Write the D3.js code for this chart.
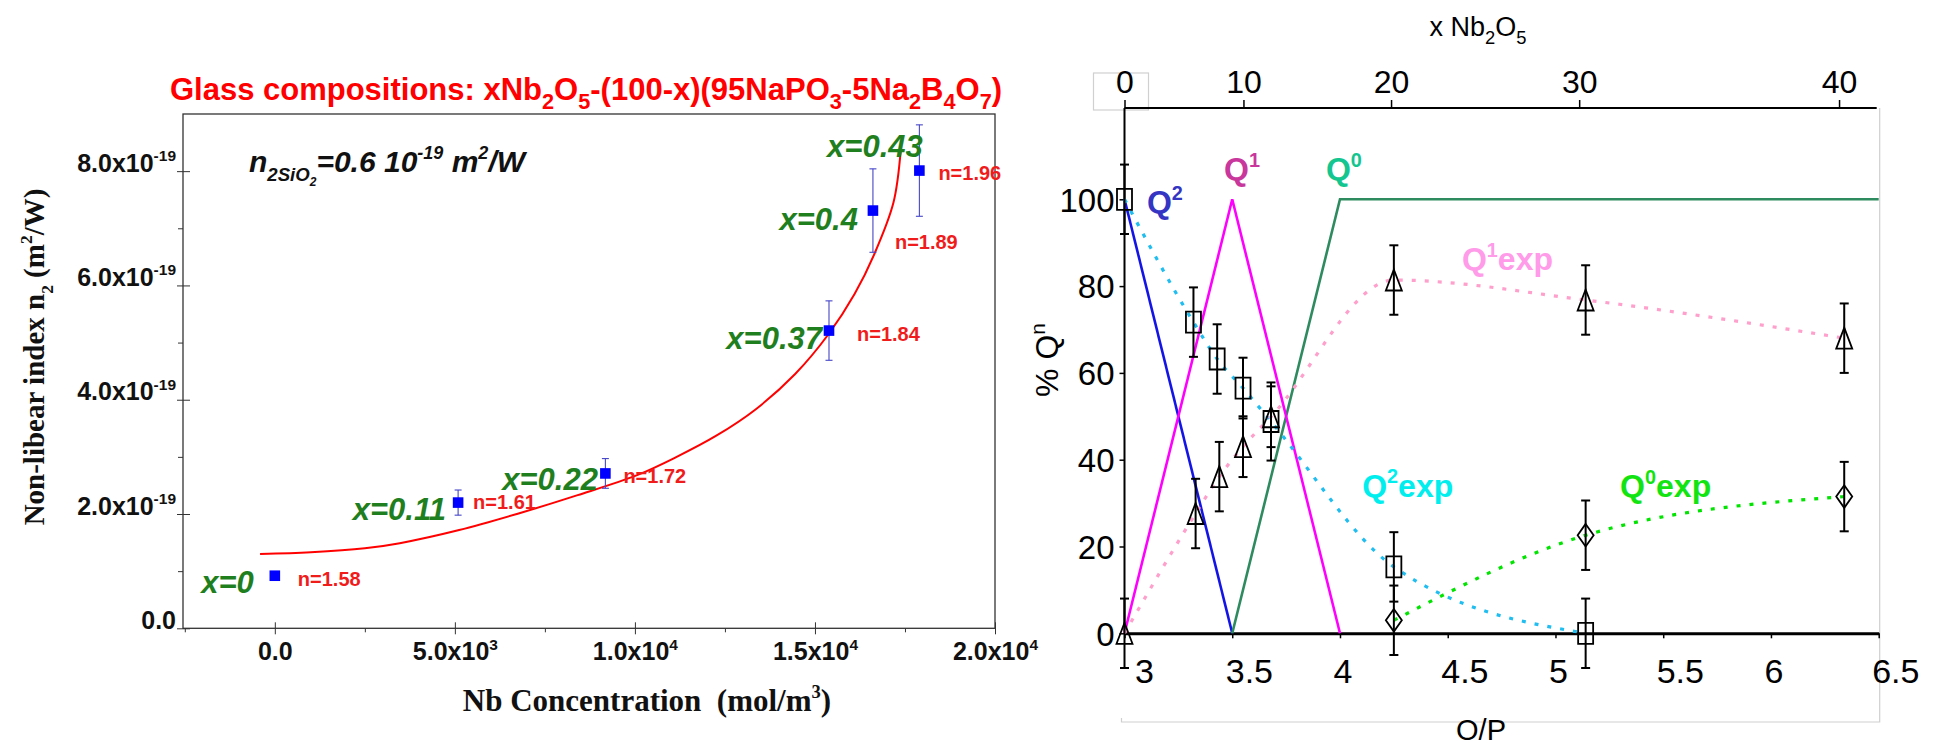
<!DOCTYPE html>
<html>
<head>
<meta charset="utf-8">
<script src="https://cdn.jsdelivr.net/npm/d3@7"></script>
<style>
  body { margin: 0; background: #fff; }
  svg { display: block; }
  text { white-space: pre; }
</style>
</head>
<body>
<svg id="fig" width="1937" height="746"></svg>
<script>
// ---- left panel: n2 vs Nb concentration (x in 1e3 mol/m3, y in 1e-19 m2/W)
const nbConc = [0, 5.09, 9.18, 15.39, 16.61, 17.9];
const n2Vals = [0.92, 2.2, 2.71, 5.21, 7.31, 8.01];
const n2Err = [0, 0.22, 0.26, 0.52, 0.73, 0.8];
const compLabels = ['x=0', 'x=0.11', 'x=0.22', 'x=0.37', 'x=0.4', 'x=0.43'];
const indexLabels = ['n=1.58', 'n=1.61', 'n=1.72', 'n=1.84', 'n=1.89', 'n=1.96'];

// red fit curve
const fitX = [-0.41, 1.0, 2.5, 3.47, 5.12, 6.77, 8.41, 10.06, 11.16, 12.26, 13.35, 14.45, 15.38, 16.1, 16.65, 17.18, 17.38];
const fitY = [1.30, 1.33, 1.40, 1.49, 1.72, 2.01, 2.33, 2.68, 3.0, 3.37, 3.83, 4.45, 5.15, 5.85, 6.55, 7.45, 8.35];

const concTicks = [0, 5, 10, 15, 20];
const concTickText = [['0.0', ''], ['5.0x10', '3'], ['1.0x10', '4'], ['1.5x10', '4'], ['2.0x10', '4']];
const concMinor = [-2.5, 2.5, 7.5, 12.5, 17.5];
const n2Ticks = [0, 2, 4, 6, 8];
const n2TickText = [['0.0', ''], ['2.0x10', '-19'], ['4.0x10', '-19'], ['6.0x10', '-19'], ['8.0x10', '-19']];
const n2Minor = [1, 3, 5, 7];

// ---- right panel: %Qn vs O/P
const q2ModelX = [3, 3.5];
const q2ModelY = [100, 0];
const q1ModelX = [3, 3.5, 4];
const q1ModelY = [0, 100, 0];
const q0ModelX = [3.5, 4, 6.5];
const q0ModelY = [0, 100, 100];

const q2ExpX = [3, 3.32, 3.43, 3.55, 3.68, 4.25, 5.14];
const q2ExpY = [100, 71.7, 63.2, 56.5, 48.8, 15.3, 0];
const q2ExpErr = [8, 8, 8, 7, 9, 8, 8];
const q1ExpX = [3, 3.33, 3.44, 3.55, 3.68, 4.25, 5.14, 6.34];
const q1ExpY = [0, 27.6, 36.1, 43, 49.9, 81.4, 76.8, 68];
const q1ExpErr = [8, 8, 8, 7, 7, 8, 8, 8];
const q0ExpX = [4.25, 5.14, 6.34];
const q0ExpY = [3, 22.6, 31.5];
const q0ExpErr = [8, 8, 8];

const opTicks = [3, 3.5, 4, 4.5, 5, 5.5, 6, 6.5];
const qTicks = [0, 20, 40, 60, 80, 100];
const compTicks = [0, 10, 20, 30, 40];        // x Nb2O5
const compTickOP = [3, 3.552, 4.237, 5.11, 6.316]; // where they sit on O/P

const SANS = 'Liberation Sans, Arial, sans-serif';
const SERIF = 'Liberation Serif, Times New Roman, serif';

const svg = d3.select('#fig');

// text with sub/sup parts: [[str, 'sub'|'sup'|'subsub'|null, scale]]
const rich = (sel, parts, size) => {
  let cur = 0;
  parts.forEach(([s, kind, sc]) => {
    const fs = sc ? size * sc : size;
    let shift = 0;
    if (kind === 'sub') shift = size * 0.3;
    if (kind === 'subsub') shift = size * 0.45;
    if (kind === 'sup') shift = -size * 0.42;
    sel.append('tspan').attr('dy', shift - cur).attr('font-size', fs).text(s);
    cur = shift;
  });
};

// =================== left panel ===================
const xL = d3.scaleLinear().domain([-2.55, 20]).range([183, 995]);
const yL = d3.scaleLinear().domain([0, 9]).range([628.3, 114]);
const gL = svg.append('g');

gL.append('rect')
  .attr('x', xL.range()[0]).attr('y', yL.range()[1])
  .attr('width', xL.range()[1] - xL.range()[0])
  .attr('height', yL.range()[0] - yL.range()[1])
  .attr('fill', 'none').attr('stroke', '#333').attr('stroke-width', 1.3);

// x axis
const xAxL = gL.append('g').attr('transform', `translate(0,${yL(0)})`)
  .call(d3.axisBottom(xL).tickValues(concTicks).tickSize(6).tickSizeOuter(0).tickFormat(''));
xAxL.select('.domain').remove();
xAxL.selectAll('.tick line').attr('y1', -6).attr('stroke', '#333');
xAxL.selectAll('.tick text').each(function (d, i) {
  const t = d3.select(this).attr('y', 32).attr('dy', 0)
    .attr('font-family', SANS).attr('font-weight', 'bold').attr('font-size', 25).attr('fill', '#111')
    .attr('text-anchor', 'middle');
  rich(t, [[concTickText[i][0]], [concTickText[i][1], 'sup', 0.62]], 25);
});
gL.append('g').attr('transform', `translate(0,${yL(0)})`)
  .call(d3.axisBottom(xL).tickValues(concMinor).tickSize(4).tickSizeOuter(0).tickFormat(''))
  .call(g => g.select('.domain').remove())
  .selectAll('.tick line').attr('stroke', '#333');

// y axis
const yAxL = gL.append('g').attr('transform', `translate(${xL.range()[0]},0)`)
  .call(d3.axisLeft(yL).tickValues(n2Ticks).tickSize(6).tickSizeOuter(0).tickFormat(''));
yAxL.select('.domain').remove();
yAxL.selectAll('.tick line').attr('x1', 7).attr('stroke', '#333');
yAxL.selectAll('.tick text').each(function (d, i) {
  const t = d3.select(this).attr('x', -7).attr('dy', '0.45em')
    .attr('font-family', SANS).attr('font-weight', 'bold').attr('font-size', 25).attr('fill', '#111')
    .attr('text-anchor', 'end');
  rich(t, [[n2TickText[i][0]], [n2TickText[i][1], 'sup', 0.62]], 25);
});
gL.append('g').attr('transform', `translate(${xL.range()[0]},0)`)
  .call(d3.axisLeft(yL).tickValues(n2Minor).tickSize(5).tickSizeOuter(0).tickFormat(''))
  .call(g => g.select('.domain').remove())
  .selectAll('.tick line').attr('stroke', '#333');

// fit curve
gL.append('path')
  .datum(d3.zip(fitX, fitY))
  .attr('d', d3.line().x(d => xL(d[0])).y(d => yL(d[1])).curve(d3.curveCatmullRom.alpha(0.5)))
  .attr('fill', 'none').attr('stroke', '#ff0000').attr('stroke-width', 2);

// error bars
const ptsL = nbConc.map((x, i) => ({ x, y: n2Vals[i], e: n2Err[i], i }));
const errL = gL.selectAll('.errL').data(ptsL.filter(p => p.e > 0)).join('g')
  .attr('stroke', '#4646c8').attr('stroke-width', 1.1);
errL.append('line')
  .attr('x1', d => xL(d.x)).attr('x2', d => xL(d.x))
  .attr('y1', d => yL(d.y - d.e)).attr('y2', d => yL(d.y + d.e));
[-1, 1].forEach(s => {
  errL.append('line')
    .attr('x1', d => xL(d.x) - 3.5).attr('x2', d => xL(d.x) + 3.5)
    .attr('y1', d => yL(d.y + s * d.e)).attr('y2', d => yL(d.y + s * d.e));
});

// squares
gL.selectAll('.sq').data(ptsL).join('rect')
  .attr('x', d => xL(d.x) - 5.3).attr('y', d => yL(d.y) - 5.3)
  .attr('width', 10.6).attr('height', 10.6).attr('fill', '#0000ff');

// annotations next to points
const compOffsets = [[-21, 17], [-12, 17], [-7.5, 16.5], [-7, 18], [-15, 19.7], [3.4, -13.7]];
const indexOffsets = [[23, 10.7], [15, 6.5], [18, 9.4], [28, 10.7], [22, 38], [19, 9.3]];
gL.selectAll('.comp').data(ptsL).join('text')
  .attr('x', d => xL(d.x) + compOffsets[d.i][0]).attr('y', d => yL(d.y) + compOffsets[d.i][1])
  .attr('text-anchor', 'end')
  .attr('font-family', SANS).attr('font-size', 31).attr('font-weight', 'bold').attr('font-style', 'italic')
  .attr('fill', '#1f7f1f')
  .text(d => compLabels[d.i]);
gL.selectAll('.nidx').data(ptsL).join('text')
  .attr('x', d => xL(d.x) + indexOffsets[d.i][0]).attr('y', d => yL(d.y) + indexOffsets[d.i][1])
  .attr('font-family', SANS).attr('font-size', 20).attr('font-weight', 'bold')
  .attr('fill', '#f01c1c')
  .text(d => indexLabels[d.i]);

// title
const title = gL.append('text').attr('x', 586).attr('y', 100).attr('text-anchor', 'middle')
  .attr('font-family', SANS).attr('font-weight', 'bold').attr('fill', '#ff0000');
rich(title, [
  ['Glass compositions: xNb'], ['2', 'sub', 0.7], ['O'], ['5', 'sub', 0.7],
  ['-(100-x)(95NaPO'], ['3', 'sub', 0.7], ['-5Na'], ['2', 'sub', 0.7],
  ['B'], ['4', 'sub', 0.7], ['O'], ['7', 'sub', 0.7], [')']
], 31);

// n2 of silica
const silica = gL.append('text').attr('x', 249).attr('y', 172)
  .attr('font-family', SANS).attr('font-weight', 'bold').attr('font-style', 'italic').attr('fill', '#111');
rich(silica, [
  ['n'], ['2SiO', 'sub', 0.62], ['2', 'subsub', 0.4], ['=0.6 10'], ['-19', 'sup', 0.6],
  [' m'], ['2', 'sup', 0.6], ['/W']
], 30);

// axis titles
const yTitleL = gL.append('text').attr('transform', 'translate(44,357) rotate(-90)')
  .attr('text-anchor', 'middle').attr('font-family', SERIF).attr('font-weight', 'bold').attr('fill', '#111');
rich(yTitleL, [['Non-libear index n'], ['2', 'sub', 0.6], [' (m'], ['2', 'sup', 0.6], ['/W)']], 29);

const xTitleL = gL.append('text').attr('x', 647).attr('y', 711)
  .attr('text-anchor', 'middle').attr('font-family', SERIF).attr('font-weight', 'bold').attr('fill', '#111');
rich(xTitleL, [['Nb Concentration  (mol/m'], ['3', 'sup', 0.6], [')']], 31);

// =================== right panel ===================
const xR = d3.scaleLinear().domain([3, 6.5]).range([1124.5, 1878.7]);
const yR = d3.scaleLinear().domain([0, 100]).range([633.3, 199.3]);
const topY = 108;
const xTop = d3.scaleLinear().domain(compTicks).range(compTickOP.map(xR));
const gR = svg.append('g');

// faint frame left over in the picture
gR.append('path')
  .attr('d', `M${xR(3) - 3},${718}V${722}H${xR(6.5) + 1}V${topY}`)
  .attr('fill', 'none').attr('stroke', '#cfcfcf').attr('stroke-width', 1.2);
gR.append('rect')
  .attr('x', xTop(0) - 31).attr('y', 73).attr('width', 55).attr('height', 37)
  .attr('fill', 'none').attr('stroke', '#d0d0d0').attr('stroke-width', 1.2);

// top axis (composition)
const topAx = gR.append('g').attr('transform', `translate(0,${topY})`)
  .call(d3.axisTop(xTop).tickValues(compTicks).tickSize(8).tickSizeOuter(0));
topAx.select('.domain').remove();
topAx.selectAll('.tick line').attr('stroke-width', 1.5);
topAx.selectAll('.tick text').attr('y', -15).attr('dy', 0)
  .attr('font-family', SANS).attr('font-size', 32).attr('fill', '#000');
gR.append('line')
  .attr('x1', xR(3)).attr('x2', xR(6.5) - 2).attr('y1', topY).attr('y2', topY)
  .attr('stroke', '#000').attr('stroke-width', 2);

const topTitle = gR.append('text').attr('x', 1478).attr('y', 36).attr('text-anchor', 'middle')
  .attr('font-family', SANS).attr('fill', '#000');
rich(topTitle, [['x Nb'], ['2', 'sub', 0.68], ['O'], ['5', 'sub', 0.68]], 27);

// left axis
const yAxR = gR.append('g').attr('transform', `translate(${xR(3)},0)`)
  .call(d3.axisLeft(yR).tickValues(qTicks).tickSize(5).tickSizeOuter(0));
yAxR.select('.domain').remove();
yAxR.selectAll('.tick line').attr('stroke-width', 1.5);
yAxR.selectAll('.tick text').attr('x', -10).attr('dy', '0.36em')
  .attr('font-family', SANS).attr('font-size', 33).attr('fill', '#000');
gR.append('line')
  .attr('x1', xR(3)).attr('x2', xR(3)).attr('y1', yR(0)).attr('y2', topY)
  .attr('stroke', '#000').attr('stroke-width', 2);

// bottom axis at 0 %
const xAxR = gR.append('g').attr('transform', `translate(0,${yR(0)})`)
  .call(d3.axisBottom(xR).tickValues(opTicks).tickSize(5).tickSizeOuter(0).tickFormat(d3.format('~g')));
xAxR.select('.domain').attr('stroke-width', 3);
xAxR.selectAll('.tick line').attr('stroke-width', 1.5);
xAxR.selectAll('.tick text').attr('y', 50).attr('dy', 0)
  .attr('x', d => d === opTicks[0] ? 10 : -7).attr('text-anchor', 'start')
  .attr('font-family', SANS).attr('font-size', 34).attr('fill', '#000');

gR.append('text').attr('x', 1481).attr('y', 740).attr('text-anchor', 'middle')
  .attr('font-family', SANS).attr('font-size', 29).attr('fill', '#000').text('O/P');

const yTitleR = gR.append('text').attr('transform', 'translate(1058,360) rotate(-90)')
  .attr('text-anchor', 'middle').attr('font-family', SANS).attr('fill', '#000');
rich(yTitleR, [['% Q'], ['n', 'sup', 0.65]], 32);

// model lines
const lineR = d3.line().x(d => xR(d[0])).y(d => yR(d[1]));
const models = [
  { x: q2ModelX, y: q2ModelY, c: '#1414e6' },
  { x: q0ModelX, y: q0ModelY, c: '#2e8b5f' },
  { x: q1ModelX, y: q1ModelY, c: '#ff00ff' }
];
models.forEach(m => {
  gR.append('path').datum(d3.zip(m.x, m.y)).attr('d', lineR)
    .attr('fill', 'none').attr('stroke', m.c).attr('stroke-width', 2.6);
});

// experimental dotted curves
const smooth = d3.line().x(d => xR(d[0])).y(d => yR(d[1])).curve(d3.curveMonotoneX);
const exps = [
  { x: q2ExpX, y: q2ExpY, e: q2ExpErr, c: '#1fbdf0', m: 'square' },
  { x: q1ExpX, y: q1ExpY, e: q1ExpErr, c: '#ff9fcb', m: 'triangle' },
  { x: q0ExpX, y: q0ExpY, e: q0ExpErr, c: '#00e400', m: 'diamond' }
];
exps.forEach(s => {
  gR.append('path').datum(d3.zip(s.x, s.y)).attr('d', smooth)
    .attr('fill', 'none').attr('stroke', s.c).attr('stroke-width', 3.2)
    .attr('stroke-dasharray', '4 9');
});

// markers + error bars
const markPath = {
  square: 'M-7.5,-10.5H7.5V10.5H-7.5Z',
  triangle: 'M0,-10.5L8,10.5H-8Z',
  diamond: 'M0,-11.3L8,0L0,11.3L-8,0Z'
};
exps.forEach(s => {
  const pts = s.x.map((x, i) => ({ x, y: s.y[i], e: s.e[i] }));
  const g = gR.append('g').attr('stroke', '#000').attr('fill', 'none');
  const eb = g.selectAll('.eb').data(pts).join('g').attr('stroke-width', 2);
  eb.append('line')
    .attr('x1', d => xR(d.x)).attr('x2', d => xR(d.x))
    .attr('y1', d => yR(d.y - d.e)).attr('y2', d => yR(d.y + d.e));
  [-1, 1].forEach(k => {
    eb.append('line')
      .attr('x1', d => xR(d.x) - 4.5).attr('x2', d => xR(d.x) + 4.5)
      .attr('y1', d => yR(d.y + k * d.e)).attr('y2', d => yR(d.y + k * d.e));
  });
  g.selectAll('.mk').data(pts).join('path')
    .attr('transform', d => `translate(${xR(d.x)},${yR(d.y)})`)
    .attr('d', markPath[s.m]).attr('stroke-width', 1.8);
});

// curve names
const qNames = [
  { base: 'Q', sup: '2', tail: '', c: '#3535c3', op: 3.104, v: 96.8 },
  { base: 'Q', sup: '1', tail: '', c: '#c9369c', op: 3.462, v: 104.4 },
  { base: 'Q', sup: '0', tail: '', c: '#13c58f', op: 3.935, v: 104.4 },
  { base: 'Q', sup: '1', tail: 'exp', c: '#ff9be8', op: 4.566, v: 83.7 },
  { base: 'Q', sup: '2', tail: 'exp', c: '#00eeee', op: 4.103, v: 31.5 },
  { base: 'Q', sup: '0', tail: 'exp', c: '#12e412', op: 5.30, v: 31.4 }
];
qNames.forEach(q => {
  const t = gR.append('text').attr('x', xR(q.op)).attr('y', yR(q.v))
    .attr('font-family', SANS).attr('font-weight', 'bold').attr('fill', q.c);
  rich(t, [[q.base], [q.sup, 'sup', 0.62], [q.tail]], 32);
});
</script>
</body>
</html>
